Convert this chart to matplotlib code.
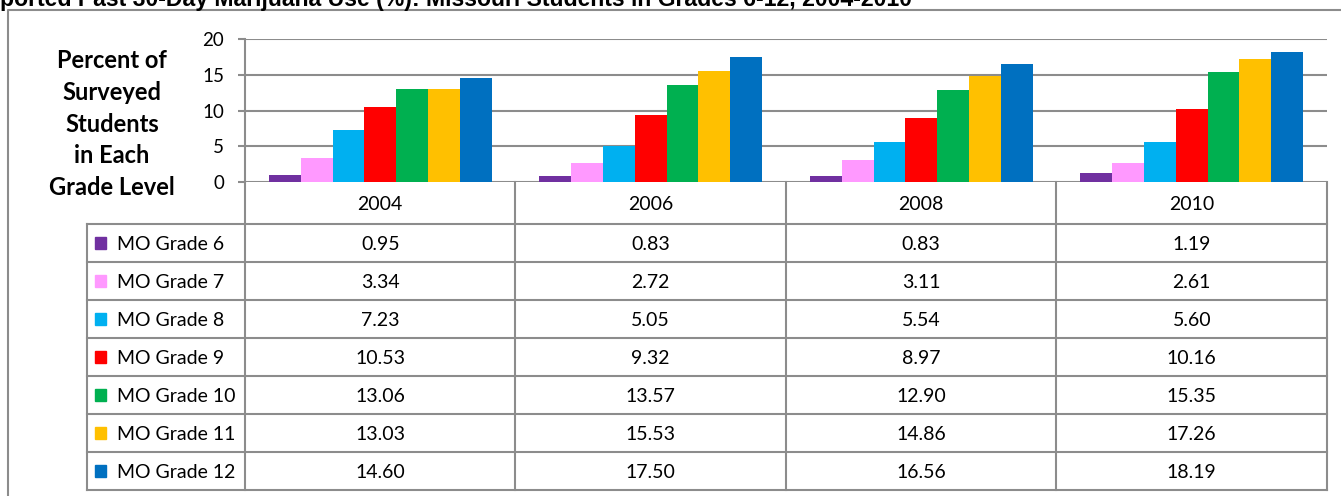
import matplotlib.pyplot as plt
import numpy as np

years = ['2004', '2006', '2008', '2010']
grades = ['MO Grade 6', 'MO Grade 7', 'MO Grade 8', 'MO Grade 9',
          'MO Grade 10', 'MO Grade 11', 'MO Grade 12']
grade6 = [0.95, 0.83, 0.83, 1.19]
grade7 = [3.34, 2.72, 3.11, 2.61]
grade8 = [7.23, 5.05, 5.54, 5.60]
grade9 = [10.53, 9.32, 8.97, 10.16]
grade10 = [13.06, 13.57, 12.90, 15.35]
grade11 = [13.03, 15.53, 14.86, 17.26]
grade12 = [14.60, 17.50, 16.56, 18.19]
series = [grade6, grade7, grade8, grade9, grade10, grade11, grade12]
colors = ['#7030A0', '#FF99FF', '#00B0F0', '#FF0000', '#00B050', '#FFC000', '#0070C0']

title = 'Self-Reported Past 30-Day Marijuana Use (%): Missouri Students in Grades 6-12, 2004-2010'
ylabel = 'Percent of\nSurveyed\nStudents\nin Each\nGrade Level'

W, H = 1341, 496
fig = plt.figure(figsize=(W / 100, H / 100), dpi=100)
font = 'Lato'
grid_c = '#8C8C8C'
lw = 1.5

# pixel layout
px_left, px_right, px_top, px_zero = 245, 1327, 39, 182
row_h = 38
hdr_bottom = 224
leg_left = 87

# bar chart axes
ax = fig.add_axes([px_left / W, 1 - px_zero / H, (px_right - px_left) / W, (px_zero - px_top) / H])
n = len(series)
w = 1 / (n + 1.5)
x = np.arange(len(years))
for i, (vals, c) in enumerate(zip(series, colors)):
    ax.bar(x + (i - (n - 1) / 2) * w, vals, width=w, color=c, zorder=3)
ax.set_xlim(-0.5, len(years) - 0.5)
ax.set_ylim(0, 20)
ax.set_yticks([0, 5, 10, 15, 20])
ax.yaxis.grid(True, color=grid_c, linewidth=lw)
ax.set_axisbelow(True)
ax.set_xticks([])
for s in ['top', 'right', 'bottom']:
    ax.spines[s].set_visible(False)
ax.spines['left'].set_color(grid_c)
ax.spines['left'].set_linewidth(lw)
ax.tick_params(axis='y', length=5, width=lw, color=grid_c, labelsize=13.5, pad=10)
for lab in ax.get_yticklabels():
    lab.set_fontfamily(font)

# overlay in pixel coordinates for frame, table, labels
ov = fig.add_axes([0, 0, 1, 1], facecolor='none')
ov.set_xlim(0, W)
ov.set_ylim(H, 0)
ov.axis('off')

# outer frame
ov.plot([8, 8, W + 5], [H + 5, 10, 10], color=grid_c, lw=lw, solid_capstyle='butt')

# title (clipped by the top and left edges, as in the source image)
ov.text(912, 6, title, ha='right', va='baseline', fontsize=16.6,
        fontweight='bold', family='Liberation Sans')

# y label
ov.text(112, 124, ylabel, ha='center', va='center', fontsize=17,
        fontweight='bold', family=font, linespacing=1.45)

# table grid
col_edges = np.linspace(px_left, px_right, len(years) + 1)
tbl_bottom = hdr_bottom + row_h * len(grades)
for xe in col_edges:
    ov.plot([xe, xe], [px_zero, tbl_bottom], color=grid_c, lw=lw)
ov.plot([leg_left, leg_left], [hdr_bottom, tbl_bottom], color=grid_c, lw=lw)
for r in range(len(grades) + 1):
    y = hdr_bottom + r * row_h
    ov.plot([leg_left, px_right], [y, y], color=grid_c, lw=lw)

# header years
for j, yr in enumerate(years):
    ov.text((col_edges[j] + col_edges[j + 1]) / 2, (px_zero + hdr_bottom) / 2 + 1, yr,
            ha='center', va='center', fontsize=14, family=font)

# rows
for r, (g, vals, c) in enumerate(zip(grades, series, colors)):
    yc = hdr_bottom + r * row_h + row_h / 2
    ov.add_patch(plt.Rectangle((95, yc - 6), 11.5, 11.5, color=c))
    ov.text(117, yc + 1, g, ha='left', va='center', fontsize=14, family=font)
    for j, v in enumerate(vals):
        ov.text((col_edges[j] + col_edges[j + 1]) / 2, yc + 1, f'{v:.2f}',
                ha='center', va='center', fontsize=14, family=font)

fig.savefig('out.png', dpi=100)
